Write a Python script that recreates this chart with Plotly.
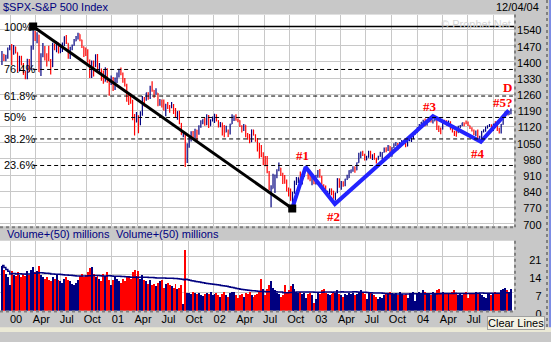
import pandas as pd
import plotly.graph_objects as go

# ---------------- weekly S&P 500 bars (Friday close) ----------------
close_99 = [1433, 1417, 1421, 1458, 1469]
high_99 = [1447, 1434, 1431, 1462, 1473]
low_99 = [1387, 1404, 1403, 1414, 1450]

close_00 = [1441, 1465, 1441, 1360, 1424, 1387, 1346, 1333, 1409, 1395, 1464, 1527, 1499,
            1516, 1357, 1434, 1452, 1433, 1421, 1406, 1379, 1477, 1457, 1465, 1441, 1455,
            1478, 1510, 1481, 1419, 1462, 1471, 1491, 1507, 1521, 1495, 1466, 1449, 1437,
            1408, 1374, 1396, 1379, 1427, 1366, 1367, 1341, 1315, 1370, 1313, 1305, 1320]
high_00 = [1478, 1473, 1466, 1441, 1427, 1427, 1395, 1362, 1414, 1413, 1471, 1553, 1534,
           1528, 1518, 1437, 1482, 1469, 1437, 1470, 1413, 1483, 1479, 1489, 1484, 1474,
           1484, 1510, 1517, 1481, 1466, 1475, 1499, 1512, 1526, 1520, 1496, 1467, 1462,
           1455, 1411, 1406, 1406, 1433, 1434, 1395, 1371, 1363, 1377, 1373, 1320, 1341]
low_00 = [1387, 1431, 1436, 1356, 1360, 1386, 1345, 1325, 1325, 1355, 1364, 1453, 1491,
          1481, 1356, 1339, 1420, 1406, 1380, 1404, 1346, 1378, 1450, 1442, 1436, 1437,
          1443, 1469, 1478, 1414, 1413, 1450, 1470, 1489, 1497, 1490, 1460, 1421, 1426,
          1396, 1330, 1330, 1337, 1378, 1366, 1348, 1319, 1305, 1315, 1310, 1254, 1300]

close_01 = [1298, 1319, 1342, 1355, 1349, 1315, 1302, 1246, 1234, 1233, 1151, 1139, 1160,
            1128, 1184, 1242, 1234, 1267, 1245, 1292, 1277, 1261, 1265, 1214, 1225, 1224,
            1191, 1215, 1211, 1206, 1215, 1191, 1162, 1185, 1134, 1085, 1092, 966, 1041,
            1072, 1092, 1073, 1105, 1088, 1120, 1139, 1151, 1139, 1167, 1123, 1144, 1161]
high_01 = [1335, 1333, 1354, 1370, 1376, 1354, 1330, 1306, 1265, 1263, 1236, 1175, 1183,
           1169, 1187, 1253, 1248, 1267, 1269, 1297, 1316, 1278, 1286, 1266, 1240, 1237,
           1237, 1219, 1226, 1214, 1226, 1218, 1201, 1186, 1189, 1136, 1097, 1092, 1048,
           1076, 1100, 1101, 1111, 1106, 1126, 1148, 1152, 1157, 1173, 1170, 1152, 1164]
low_01 = [1274, 1278, 1309, 1333, 1342, 1310, 1294, 1228, 1214, 1219, 1148, 1081, 1139,
          1091, 1126, 1167, 1207, 1232, 1236, 1240, 1271, 1245, 1258, 1208, 1210, 1203,
          1190, 1165, 1196, 1180, 1200, 1175, 1160, 1150, 1130, 1085, 1074, 945, 962,
          1028, 1056, 1063, 1069, 1054, 1085, 1115, 1130, 1124, 1126, 1114, 1124, 1143]

close_02 = [1172, 1146, 1128, 1133, 1122, 1096, 1104, 1089, 1131, 1165, 1166, 1148, 1147,
            1122, 1111, 1126, 1076, 1073, 1054, 1106, 1083, 1067, 1027, 1007, 990, 990,
            989, 921, 847, 852, 865, 908, 930, 940, 916, 893, 889, 846, 828,
            800, 835, 884, 897, 900, 894, 910, 930, 936, 901, 889, 896, 875]
high_02 = [1176, 1172, 1148, 1140, 1138, 1127, 1124, 1108, 1132, 1173, 1167, 1174, 1155,
           1148, 1126, 1131, 1126, 1092, 1088, 1107, 1106, 1087, 1071, 1049, 1040, 1009,
           993, 993, 928, 866, 916, 913, 935, 965, 942, 920, 911, 891, 856,
           852, 838, 886, 902, 900, 926, 911, 937, 954, 936, 912, 904, 896]
low_02 = [1136, 1142, 1116, 1117, 1081, 1074, 1096, 1075, 1086, 1131, 1144, 1145, 1139,
          1118, 1094, 1101, 1074, 1063, 1048, 1053, 1082, 1055, 1012, 982, 988, 953,
          948, 918, 846, 771, 852, 833, 896, 927, 906, 872, 873, 839, 818,
          799, 768, 829, 867, 876, 883, 869, 902, 928, 891, 884, 866, 870]

close_03 = [909, 928, 901, 861, 856, 829, 835, 851, 841, 829, 833, 895, 863,
            879, 868, 893, 898, 930, 933, 946, 933, 964, 987, 998, 995, 976,
            986, 998, 993, 998, 980, 977, 990, 993, 1008, 1021, 1018, 1036, 997,
            1029, 1039, 1040, 1029, 1051, 1053, 1050, 1035, 1058, 1061, 1074, 1089, 1095]
high_03 = [911, 932, 936, 907, 870, 865, 842, 852, 852, 842, 834, 896, 895,
           885, 884, 894, 912, 931, 934, 948, 947, 965, 1007, 1012, 1015, 1002,
           994, 1015, 1015, 1000, 1006, 985, 994, 1011, 1009, 1030, 1031, 1040, 1036,
           1031, 1048, 1053, 1049, 1053, 1062, 1063, 1052, 1060, 1071, 1075, 1091, 1098]
low_03 = [869, 899, 899, 861, 838, 827, 817, 825, 823, 808, 800, 833, 855,
          847, 860, 862, 889, 898, 918, 925, 920, 931, 964, 983, 993, 973,
          974, 986, 981, 975, 977, 960, 977, 990, 978, 1008, 1009, 1014, 996,
          990, 1026, 1036, 1018, 1029, 1048, 1044, 1031, 1035, 1058, 1053, 1065, 1086]

close_04 = [1108, 1122, 1140, 1141, 1131, 1142, 1146, 1144, 1145, 1156, 1120, 1110, 1109,
            1141, 1139, 1135, 1140, 1107, 1099, 1095, 1094, 1121, 1123, 1137, 1135, 1134,
            1125, 1112, 1102, 1087, 1101, 1064, 1065, 1099, 1107, 1113, 1123, 1129, 1110,
            1131, 1123, 1109, 1096, 1130, 1167, 1185, 1171, 1183, 1191]
high_04 = [1118, 1131, 1140, 1150, 1155, 1143, 1158, 1157, 1152, 1157, 1158, 1125, 1116,
           1144, 1150, 1148, 1146, 1143, 1127, 1102, 1102, 1124, 1127, 1137, 1137, 1146,
           1142, 1125, 1117, 1108, 1103, 1108, 1080, 1101, 1108, 1120, 1126, 1131, 1129,
           1132, 1143, 1127, 1115, 1131, 1170, 1185, 1188, 1186, 1198]
low_04 = [1095, 1107, 1117, 1135, 1122, 1124, 1139, 1138, 1134, 1143, 1105, 1097, 1087,
          1108, 1135, 1125, 1128, 1107, 1095, 1079, 1076, 1093, 1113, 1123, 1122, 1130,
          1123, 1110, 1099, 1083, 1078, 1063, 1060, 1064, 1094, 1098, 1112, 1118, 1108,
          1101, 1122, 1101, 1090, 1090, 1128, 1160, 1170, 1170, 1173]

first_open = 1420

# weekly volume (millions)
vol_99 = [17.5, 16.0, 14.5, 13.0, 10.0]
vol_00 = [15.5, 14.0, 13.5, 15.0, 14.0, 13.0, 14.5, 13.5, 15.5, 14.0, 16.0, 17.0, 15.0,
          15.5, 17.5, 14.0, 13.0, 12.5, 13.0, 12.0, 11.5, 13.0, 12.5, 14.0, 12.0, 11.5,
          11.0, 12.5, 13.0, 12.0, 11.5, 10.5, 10.0, 11.0, 12.0, 13.5, 14.5, 13.0, 14.0,
          15.0, 16.5, 17.0, 14.5, 13.0, 14.0, 12.5, 11.5, 14.5, 13.5, 15.0, 12.0, 10.0]
vol_01 = [12.0, 13.5, 12.5, 11.5, 11.0, 12.5, 11.5, 13.0, 13.5, 12.5, 15.0, 16.0, 13.5,
          15.5, 12.5, 14.0, 12.0, 11.5, 10.5, 12.0, 10.0, 10.5, 9.5, 11.0, 11.5, 12.0,
          9.0, 10.5, 11.0, 10.0, 9.5, 9.0, 10.5, 8.5, 9.0, 10.0, 2.5, 23.5, 7.0,
          7.0, 6.5, 7.2, 6.8, 6.5, 6.8, 6.2, 5.8, 6.5, 7.0, 6.5, 7.5, 6.0]
vol_02 = [6.5, 7.0, 6.0, 5.5, 6.5, 7.5, 6.0, 5.5, 6.8, 7.2, 7.5, 6.0, 5.0,
          6.0, 6.5, 5.5, 7.0, 6.5, 7.2, 6.0, 5.5, 6.0, 6.5, 7.5, 12.5, 8.5,
          6.0, 8.5, 10.0, 11.5, 9.0, 8.0, 7.0, 6.5, 5.5, 6.0, 10.0, 7.5, 8.0,
          9.5, 10.5, 8.5, 7.5, 7.0, 7.5, 6.5, 7.0, 5.0, 6.5, 7.0, 6.0, 3.0]
vol_03 = [4.5, 7.5, 6.5, 8.0, 8.5, 7.0, 6.5, 6.0, 6.5, 7.5, 7.0, 8.0, 6.5,
          6.0, 5.5, 6.5, 6.0, 7.0, 6.5, 7.0, 6.0, 6.5, 7.5, 8.0, 7.0, 6.5,
          4.5, 7.0, 7.5, 6.5, 6.0, 5.5, 4.5, 5.5, 5.0, 6.0, 7.0, 6.5, 7.5,
          7.0, 6.5, 7.0, 6.0, 7.5, 6.5, 6.0, 6.5, 5.0, 7.0, 6.5, 7.5, 4.0]
vol_04 = [6.5, 7.5, 7.0, 8.0, 7.5, 6.5, 7.0, 6.0, 7.5, 7.0, 8.0, 8.5, 7.0,
          7.5, 6.5, 7.0, 6.5, 7.0, 7.5, 8.0, 7.0, 6.0, 6.5, 6.0, 7.0, 7.5,
          5.0, 6.5, 7.0, 6.5, 7.5, 7.0, 6.5, 6.0, 5.5, 5.0, 6.5, 7.0, 6.0,
          7.0, 7.5, 6.5, 7.0, 8.0, 8.5, 9.0, 8.0, 7.5, 8.5]

# Fibonacci retracement between the 2000 high and the 2002 low
swing_high = ("2000-03-24", 1553)
swing_low = ("2002-10-10", 766)
fib_ratios = [1.0, 0.764, 0.618, 0.5, 0.382, 0.236]
fib_labels = ["100%", "76.4%", "61.8%", "50%", "38.2%", "23.6%"]

# hand-drawn wave count
wave_dates = ["2002-10-10", "2002-11-27", "2003-03-12", "2004-02-27", "2004-08-17", "2004-11-25"]
wave_values = [766, 945, 785, 1165, 1054, 1190]
wave_labels = ["", "#1", "#2", "#3", "#4", "#5?"]

price_ticks = [700, 770, 840, 910, 980, 1050, 1120, 1190, 1260, 1330, 1400, 1470, 1540]
vol_ticks = [0, 7, 14, 21]
quarter_ticks = pd.date_range("2000-01-01", "2004-10-01", freq="QS")
quarter_text = ["00", "Apr", "Jul", "Oct", "01", "Apr", "Jul", "Oct", "02", "Apr", "Jul", "Oct",
                "03", "Apr", "Jul", "Oct", "04", "Apr", "Jul", ""]

# ---------------- assemble ----------------
close = close_99 + close_00 + close_01 + close_02 + close_03 + close_04
high = high_99 + high_00 + high_01 + high_02 + high_03 + high_04
low = low_99 + low_00 + low_01 + low_02 + low_03 + low_04
volume = vol_99 + vol_00 + vol_01 + vol_02 + vol_03 + vol_04
weeks = pd.date_range("1999-12-03", periods=len(close), freq="W-FRI")
opens = [first_open] + close[:-1]

NAVY = "#000080"
RED = "#ff0000"
GRID = "#c8c8c8"
BG = "#c8c8c8"
FONT = "Liberation Sans, Arial, sans-serif"
SERIF = "Liberation Serif, Times New Roman, serif"
W, H = 551, 342

bar_colors = [NAVY if c >= o else RED for c, o in zip(close, opens)]
vol_ma = pd.Series(volume).rolling(50, min_periods=1).mean()


def px(x):
    return x / W


def py(y):
    return 1 - y / H


x_range = ["1999-11-26", "2004-12-14"]

fig = go.Figure()
fig.add_trace(go.Ohlc(
    x=weeks, open=opens, high=high, low=low, close=close,
    increasing=dict(line=dict(color=NAVY, width=1.2)),
    decreasing=dict(line=dict(color=RED, width=1.2)),
    tickwidth=0.3, hoverinfo="skip", xaxis="x", yaxis="y"))

# trendline from the high to the low
fig.add_trace(go.Scatter(
    x=[swing_high[0], swing_low[0]], y=[swing_high[1], swing_low[1]],
    mode="lines", line=dict(color="black", width=3), xaxis="x", yaxis="y"))
# wave count
fig.add_trace(go.Scatter(
    x=wave_dates, y=wave_values, mode="lines",
    line=dict(color="#2323ff", width=4), xaxis="x", yaxis="y"))
# anchor squares
fig.add_trace(go.Scatter(
    x=[swing_high[0], swing_low[0]], y=[swing_high[1], swing_low[1]],
    mode="markers", marker=dict(symbol="square", size=8, color="black"),
    xaxis="x", yaxis="y"))

# volume panel
fig.add_trace(go.Bar(
    x=weeks, y=volume, marker=dict(color=bar_colors, line=dict(width=0)),
    width=3.5 * 86400000, xaxis="x2", yaxis="y2", hoverinfo="skip"))
fig.add_trace(go.Scatter(
    x=weeks, y=vol_ma, mode="lines", line=dict(color=NAVY, width=1.5, shape="hv"),
    xaxis="x2", yaxis="y2", hoverinfo="skip"))

shapes = []
span = swing_high[1] - swing_low[1]
for r in fib_ratios:
    level = swing_low[1] + r * span
    if r == 1.0:
        shapes.append(dict(type="line", xref="x", yref="y", x0=swing_high[0], x1=x_range[1],
                           y0=level, y1=level, line=dict(color="black", width=1.5)))
    else:
        shapes.append(dict(type="line", xref="x", yref="y", x0=swing_high[0], x1="2004-12-10",
                           y0=level, y1=level, line=dict(color="black", width=1, dash="4px,3px")))

# panel bevels
dot = dict(color="#808080", width=2, dash="dot")
shapes += [
    dict(type="line", xref="paper", yref="paper", x0=px(515), x1=px(515), y0=py(15), y1=py(234), line=dot),
    dict(type="line", xref="paper", yref="paper", x0=px(0), x1=px(516), y0=py(234), y1=py(234), line=dot),
    dict(type="line", xref="paper", yref="paper", x0=px(515), x1=px(515), y0=py(248), y1=py(321), line=dot),
    dict(type="line", xref="paper", yref="paper", x0=px(0), x1=px(516), y0=py(321), y1=py(321), line=dot),
    dict(type="line", xref="paper", yref="paper", x0=px(547), x1=px(547), y0=py(0), y1=py(337), line=dot),
    dict(type="line", xref="paper", yref="paper", x0=px(550), x1=px(550), y0=0, y1=1,
         line=dict(color="#3050ff", width=1)),
    dict(type="rect", xref="paper", yref="paper", x0=0, x1=1, y0=0, y1=py(337),
         fillcolor="#ebe9d6", line=dict(width=0)),
]

ann = []
for r, lab in zip(fib_ratios, fib_labels):
    ann.append(dict(text=lab, xref="paper", yref="y", x=px(2), y=swing_low[1] + r * span,
                    xanchor="left", yanchor="middle", showarrow=False,
                    font=dict(family=FONT, size=11, color="black")))

shifts = {"#1": (-3, 12), "#2": (-1, -12), "#3": (-3, 10), "#4": (-3, -12), "#5?": (-6, 8)}
for d, v, lab in zip(wave_dates, wave_values, wave_labels):
    if lab:
        sx, sy = shifts[lab]
        ann.append(dict(text="<b>%s</b>" % lab, x=d, y=v, xref="x", yref="y", showarrow=False,
                        xshift=sx, yshift=sy, font=dict(family=SERIF, size=13, color=RED)))
ann.append(dict(text="<b>D</b>", x=wave_dates[-1], y=wave_values[-1], xref="x", yref="y",
                showarrow=False, xshift=-1, yshift=23,
                font=dict(family=SERIF, size=13, color=RED)))

ann += [
    dict(text="$SPX-S&P 500 Index", xref="paper", yref="paper", x=px(1), y=py(7),
         xanchor="left", yanchor="middle", showarrow=False,
         font=dict(family=FONT, size=11, color=NAVY)),
    dict(text="12/04/04", xref="paper", yref="paper", x=px(541), y=py(7),
         xanchor="right", yanchor="middle", showarrow=False,
         font=dict(family=FONT, size=11, color="black")),
    dict(text="© Prophet.Net", xref="paper", yref="paper", x=px(513), y=py(25),
         xanchor="right", yanchor="middle", showarrow=False,
         font=dict(family=FONT, size=11, color="#d4d4d4")),
    dict(text="Volume+(50) millions", xref="paper", yref="paper", x=px(5), y=py(241),
         xanchor="left", yanchor="middle", showarrow=False,
         font=dict(family=FONT, size=11, color=NAVY)),
    dict(text="Volume+(50) millions", xref="paper", yref="paper", x=px(114), y=py(241),
         xanchor="left", yanchor="middle", showarrow=False,
         font=dict(family=FONT, size=11, color=NAVY)),
    dict(text="Clear Lines", xref="paper", yref="paper", x=px(516), y=py(332.5),
         xanchor="center", yanchor="middle", showarrow=False, bgcolor="#f3f1e4",
         bordercolor="#a0a0a0", borderwidth=1, borderpad=0,
         font=dict(family=FONT, size=11, color="black")),
]

axis_common = dict(showline=False, zeroline=False, ticks="", gridcolor=GRID, gridwidth=1)
fig.update_layout(
    width=W, height=H, margin=dict(l=0, r=0, t=0, b=0),
    paper_bgcolor=BG, plot_bgcolor="white", showlegend=False,
    font=dict(family=FONT, size=11, color="black"),
    xaxis=dict(domain=[0, px(514)], range=x_range, type="date", anchor="y",
               tickvals=quarter_ticks, showticklabels=False, showgrid=True,
               rangeslider=dict(visible=False), **axis_common),
    yaxis=dict(domain=[py(233), py(15)], range=[689, 1605], tickvals=price_ticks,
               side="left", anchor="free", position=px(541.5), showgrid=True,
               ticklabelshift=1, tickfont=dict(family=FONT, size=11, color="black"),
               **axis_common),
    xaxis2=dict(domain=[0, px(514)], range=x_range, type="date", anchor="y2",
                tickvals=quarter_ticks, ticktext=quarter_text, ticklabelshift=6,
                tickfont=dict(family=FONT, size=11, color="black"), showgrid=True,
                **axis_common),
    yaxis2=dict(domain=[py(320), py(248)], range=[0, 27.1], tickvals=vol_ticks,
                side="left", anchor="free", position=px(541.5), showgrid=True,
                ticklabelshift=4, tickfont=dict(family=FONT, size=11, color="black"),
                **axis_common),
    shapes=shapes, annotations=ann, bargap=0,
)

fig.write_html("out.html")
